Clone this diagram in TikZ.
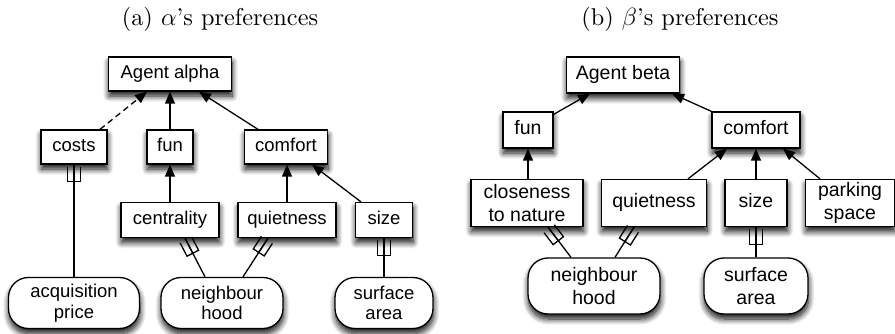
\documentclass[tikz,border=0pt]{standalone}
\usepackage{fontspec}
\newfontfamily\boxfont{Liberation Sans}
\newfontfamily\capfont[Ligatures=TeX]{lmroman10-regular.otf}
\usetikzlibrary{arrows.meta,shadows.blur}

% trident ending used for the links from raw attributes to criteria
\pgfdeclarearrow{
  name = Fork,
  setup code = {
    \pgfarrowssettipend{0pt}
    \pgfarrowssetlineend{0pt}
    \pgfarrowssetbackend{-17pt}
    \pgfarrowssetvisualbackend{-17pt}
    \pgfarrowshullpoint{0pt}{6.5pt}
    \pgfarrowshullpoint{0pt}{-6.5pt}
    \pgfarrowshullpoint{-17pt}{6.5pt}
    \pgfarrowshullpoint{-17pt}{-6.5pt}
  },
  drawing code = {
    \pgfsetdash{}{0pt}
    \pgfsetmiterjoin
    \pgfpathmoveto{\pgfqpoint{-2pt}{6.5pt}}
    \pgfpathlineto{\pgfqpoint{-17pt}{6.5pt}}
    \pgfpathlineto{\pgfqpoint{-17pt}{-6.5pt}}
    \pgfpathlineto{\pgfqpoint{-2pt}{-6.5pt}}
    \pgfpathmoveto{\pgfqpoint{-18pt}{0pt}}
    \pgfpathlineto{\pgfqpoint{0pt}{0pt}}
    \pgfusepathqstroke
  }
}

\tikzset{
  shade box/.style={blur shadow={shadow xshift=0.5pt, shadow yshift=-5pt,
      shadow blur radius=6pt, shadow blur steps=10, shadow opacity=95}},
  crit/.style={draw=black, fill=white, line width=1.3pt, inner sep=0pt,
      align=center, shade box},
  attr/.style={crit, rounded corners=20pt},
  fontL/.style={font=\boxfont\fontsize{18.5}{20.5}\selectfont},
  fontR/.style={font=\boxfont\fontsize{19.5}{23}\selectfont},
  oneline/.style={text height=13.3pt, text depth=3.9pt},
  link/.style={line width=1.3pt, -{Triangle[length=12pt,width=10pt]}},
  weak/.style={link, dash pattern=on 6pt off 4pt},
  fork/.style={line width=1.3pt, -{Fork}},
  caption/.style={font=\capfont\fontsize{24.3}{29}\selectfont, anchor=base}
}

\begin{document}
\begin{tikzpicture}[x=1pt, y=-1pt]
\useasboundingbox (0,0) rectangle (895,334);

% ---------- (a) preferences of alpha ----------
\node[caption] (capa) at (220,26) {(a) $\alpha$'s preferences};

\begin{scope}[fontL]
\node[crit, oneline, minimum width=123pt, minimum height=34pt] (alpha) at (170,74) {Agent alpha};
\node[crit, oneline, minimum width=66pt, minimum height=34pt] (costs) at (74,147) {costs};
\node[crit, oneline, minimum width=46pt, minimum height=34pt] (funa) at (170,147) {fun};
\node[crit, oneline, minimum width=83pt, minimum height=34pt] (comfa) at (286,147) {comfort};
\node[crit, oneline, minimum width=98pt, minimum height=35pt] (centr) at (170,220) {centrality};
\node[crit, oneline, minimum width=98pt, minimum height=35pt] (quieta) at (287,220) {quietness};
\node[crit, oneline, minimum width=57pt, minimum height=35pt] (sizea) at (384,220) {size};
\node[attr, minimum width=131pt, minimum height=51pt] (acq) at (74,303) {acquisition\\price};
\node[attr, minimum width=122pt, minimum height=51pt] (neigha) at (222,303) {neighbour\\hood};
\node[attr, minimum width=98pt, minimum height=51pt] (surfa) at (384,303) {surface\\area};
\end{scope}

\draw[weak] ([xshift=26pt]costs.north) -- ([xshift=-23pt]alpha.south);
\draw[link] (funa.north) -- (alpha.south);
\draw[link] ([xshift=-28pt]comfa.north) -- ([xshift=29pt]alpha.south);
\draw[link] (centr.north) -- (funa.south);
\draw[link] (quieta.north) -- ([xshift=1pt]comfa.south);
\draw[link] ([xshift=-23pt]sizea.north) -- ([xshift=26pt]comfa.south);
\draw[fork] (acq.north) -- (costs.south);
\draw[fork] ([xshift=-17pt]neigha.north) -- ([xshift=15pt]centr.south);
\draw[fork] ([xshift=21pt]neigha.north) -- ([xshift=-19pt]quieta.south);
\draw[fork] (surfa.north) -- (sizea.south);

% ---------- (b) preferences of beta ----------
\node[caption] (capb) at (680,26) {(b) $\beta$'s preferences};

\begin{scope}[fontR]
\node[crit, oneline, minimum width=113pt, minimum height=36pt] (beta) at (623,75) {Agent beta};
\node[crit, oneline, minimum width=50pt, minimum height=36pt] (funb) at (528,130) {fun};
\node[crit, oneline, minimum width=88pt, minimum height=36pt] (comfb) at (756,130) {comfort};
\node[crit, minimum width=112pt, minimum height=47pt] (close) at (527,203) {closeness\\to nature};
\node[crit, oneline, minimum width=105pt, minimum height=47pt] (quietb) at (654,203) {quietness};
\node[crit, oneline, minimum width=62pt, minimum height=47pt] (sizeb) at (756,203) {size};
\node[crit, minimum width=89pt, minimum height=47pt] (park) at (850,203) {parking\\space};
\node[attr, minimum width=132pt, minimum height=56pt] (neighb) at (594,286) {neighbour\\hood};
\node[attr, minimum width=104pt, minimum height=56pt] (surfb) at (756,286) {surface\\area};
\end{scope}

\draw[link] ([yshift=-3pt]funb.north east) -- ([xshift=-33pt]beta.south);
\draw[link] (comfb.north west) -- ([xshift=49pt]beta.south);
\draw[link] ([xshift=1pt]close.north) -- (funb.south);
\draw[link] ([xshift=34pt]quietb.north) -- ([xshift=-29pt]comfb.south);
\draw[link] (sizeb.north) -- (comfb.south);
\draw[link] ([xshift=-30pt]park.north) -- ([xshift=27pt]comfb.south);
\draw[fork] ([xshift=-23pt]neighb.north) -- ([xshift=21pt]close.south);
\draw[fork] ([xshift=21pt]neighb.north) -- ([xshift=-20pt]quietb.south);
\draw[fork] (surfb.north) -- (sizeb.south);
\end{tikzpicture}
\end{document}
